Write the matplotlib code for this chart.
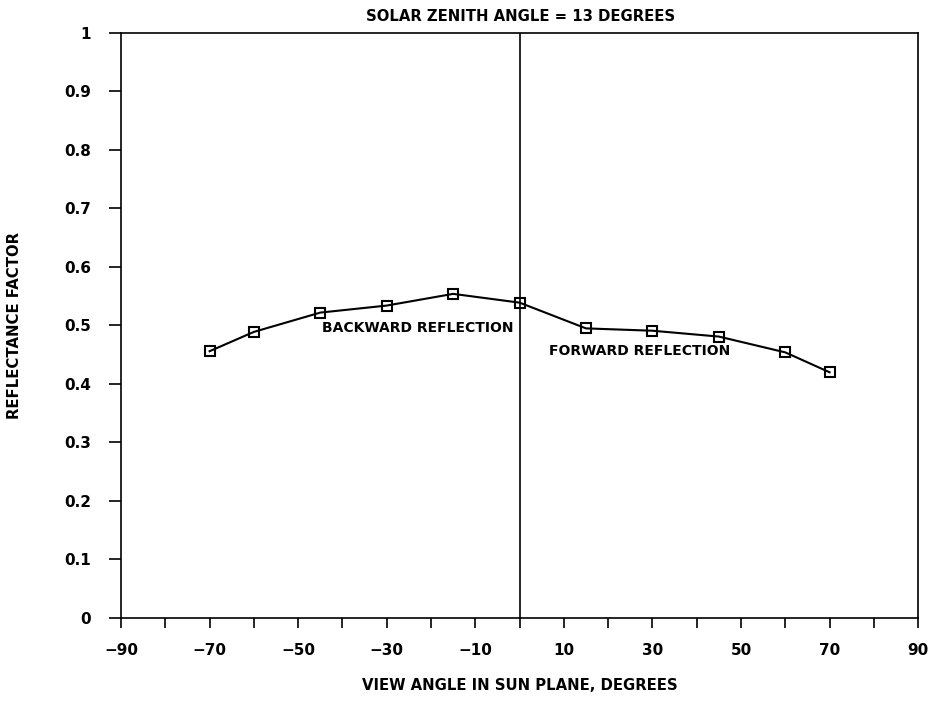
import matplotlib
matplotlib.use("Agg")
import matplotlib.pyplot as plt

view_angle = [-70, -60, -45, -30, -15, 0, 15, 30, 45, 60, 70]
reflectance = [0.456, 0.489, 0.522, 0.534, 0.554, 0.539, 0.495, 0.491, 0.481, 0.454, 0.420]
x_ticks = list(range(-90, 91, 10))
x_labels = [str(v).replace('-', '\u2212') if (v + 90) % 20 == 0 else '' for v in x_ticks]
y_ticks = [i / 10 for i in range(11)]
y_labels = ['0', '0.1', '0.2', '0.3', '0.4', '0.5', '0.6', '0.7', '0.8', '0.9', '1']

plt.rcParams['font.family'] = ['DejaVu Sans']
fig = plt.figure(figsize=(9.34, 7.04), dpi=100)
ax = fig.add_axes([0.1296, 0.1222, 0.8534, 0.8310])

ax.plot(view_angle, reflectance, color='black', linewidth=1.5,
        marker='s', markersize=7, markerfacecolor='none',
        markeredgecolor='black', markeredgewidth=1.5)
ax.axvline(0, color='black', linewidth=1.2)

ax.set_xlim(-90, 90)
ax.set_ylim(0, 1)
ax.set_xticks(x_ticks)
ax.set_xticklabels(x_labels, fontsize=11, fontweight='bold')
ax.set_yticks(y_ticks)
ax.set_yticklabels(y_labels, fontsize=11, fontweight='bold')
ax.tick_params(axis='x', direction='out', length=7, width=1.2, color='black', pad=11)
ax.tick_params(axis='y', direction='out', length=8.6, width=1.2, color='black', pad=13)
for s in ax.spines.values():
    s.set_linewidth(1.2)

ax.text(-44.6, 0.496, 'BACKWARD REFLECTION', fontsize=10, fontweight='bold',
        ha='left', va='center')
ax.text(6.7, 0.456, 'FORWARD REFLECTION', fontsize=10, fontweight='bold',
        ha='left', va='center')

fig.text(0.557, 0.9766, 'SOLAR ZENITH ANGLE = 13 DEGREES', fontsize=10.7,
         fontweight='bold', ha='center', va='center')
fig.text(0.557, 0.026, 'VIEW ANGLE IN SUN PLANE, DEGREES', fontsize=10.7,
         fontweight='bold', ha='center', va='center')
fig.text(0.015, 0.538, 'REFLECTANCE FACTOR', fontsize=10.7, fontweight='bold',
         ha='center', va='center', rotation=90)

fig.savefig('out.png', dpi=100)
